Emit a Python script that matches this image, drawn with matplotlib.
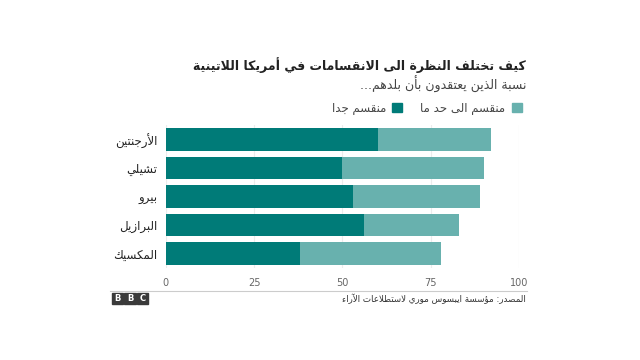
import matplotlib
matplotlib.use('Agg')
import matplotlib.pyplot as plt
from matplotlib.patches import Rectangle

# data
countries = ['الأرجنتين', 'تشيلي', 'بيرو', 'البرازيل', 'المكسيك']
very_divided = [60, 50, 53, 56, 38]
somewhat_divided = [32, 40, 36, 27, 40]
x_ticks = [0, 25, 50, 75, 100]

title = 'كيف تختلف النظرة الى الانقسامات في أمريكا اللاتينية'
subtitle = 'نسبة الذين يعتقدون بأن بلدهم...'
label_somewhat = 'منقسم الى حد ما'
label_very = 'منقسم جدا'
source = 'المصدر: مؤسسة ايبسوس موري لاستطلاعات الآراء'

DARK = '#007b78'
LIGHT = '#68b1ae'

# matplotlib has no Arabic shaping, so map letters to presentation forms
# (Arabic Presentation Forms-B, starting at U+FE80) and reverse for RTL
_letters = [('ء', 1), ('آ', 2), ('أ', 2), ('ؤ', 2), ('إ', 2), ('ئ', 4),
            ('ا', 2), ('ب', 4), ('ة', 2), ('ت', 4), ('ث', 4), ('ج', 4),
            ('ح', 4), ('خ', 4), ('د', 2), ('ذ', 2), ('ر', 2), ('ز', 2),
            ('س', 4), ('ش', 4), ('ص', 4), ('ض', 4), ('ط', 4), ('ظ', 4),
            ('ع', 4), ('غ', 4), ('ف', 4), ('ق', 4), ('ك', 4), ('ل', 4),
            ('م', 4), ('ن', 4), ('ه', 4), ('و', 2), ('ى', 2), ('ي', 4)]
FORMS = {}
_code = 0xFE80
for ch, n in _letters:
    FORMS[ch] = (_code, n)
    _code += n
LAM_ALEF = {'آ': 0xFEF5, 'أ': 0xFEF7, 'إ': 0xFEF9, 'ا': 0xFEFB}


def shape(text):
    out = []
    i = 0
    prev_joins = False
    while i < len(text):
        ch = text[i]
        if ch not in FORMS:
            out.append(ch)
            prev_joins = False
            i += 1
            continue
        nxt = text[i + 1] if i + 1 < len(text) else ''
        if ch == 'ل' and nxt in LAM_ALEF:
            out.append(chr(LAM_ALEF[nxt] + (1 if prev_joins else 0)))
            prev_joins = False
            i += 2
            continue
        base, n = FORMS[ch]
        next_is_letter = nxt in FORMS
        if n == 1:
            out.append(chr(base))
            prev_joins = False
        elif n == 2:
            out.append(chr(base + (1 if prev_joins else 0)))
            prev_joins = False
        else:
            if prev_joins and next_is_letter:
                out.append(chr(base + 3))
            elif prev_joins:
                out.append(chr(base + 1))
            elif next_is_letter:
                out.append(chr(base + 2))
            else:
                out.append(chr(base))
            prev_joins = next_is_letter
        i += 1
    return ''.join(out)[::-1]


plt.rcParams['font.family'] = ['DejaVu Sans']

fig = plt.figure(figsize=(6.4, 3.6), dpi=100)
ax = fig.add_axes([0.259, 0.256, 0.552, 0.396])

y = list(range(len(countries)))
ax.barh(y, very_divided, height=0.8, color=DARK, zorder=2)
ax.barh(y, somewhat_divided, left=very_divided, height=0.8, color=LIGHT, zorder=2)

ax.set_ylim(len(countries) - 0.5, -0.5)
ax.set_xlim(0, 100)
ax.set_xticks(x_ticks)
ax.set_xticklabels([str(t) for t in x_ticks], color='#666666', fontsize=7)
ax.set_yticks(y)
ax.set_yticklabels([shape(c) for c in countries], fontsize=8.5, color='#222222')
ax.tick_params(axis='both', length=0)
ax.tick_params(axis='x', pad=7)
ax.tick_params(axis='y', pad=6)
ax.grid(axis='x', color='#ececec', linewidth=0.8, zorder=0)
for s in ax.spines.values():
    s.set_visible(False)

# title block, right aligned like the original
fig.text(0.822, 0.818, shape(title), ha='right', va='center',
         fontsize=9, fontweight='bold', color='#222222')
fig.text(0.822, 0.766, shape(subtitle), ha='right', va='center',
         fontsize=9, color='#444444')

# legend
fig.add_artist(Rectangle((0.800, 0.689), 0.016, 0.026, color=LIGHT,
                         transform=fig.transFigure))
fig.text(0.790, 0.702, shape(label_somewhat), ha='right', va='center',
         fontsize=8.5, color='#444444')
fig.add_artist(Rectangle((0.612, 0.689), 0.016, 0.026, color=DARK,
                         transform=fig.transFigure))
fig.text(0.603, 0.702, shape(label_very), ha='right', va='center',
         fontsize=8.5, color='#444444')

# footer
fig.add_artist(plt.Line2D([0.172, 0.823], [0.191, 0.191], color='#cccccc',
                          linewidth=0.8, transform=fig.transFigure))
fig.text(0.822, 0.169, shape(source), ha='right', va='center',
         fontsize=6.3, color='#333333')
for k, letter in enumerate('BBC'):
    x0 = 0.175 + k * 0.0195
    fig.add_artist(Rectangle((x0, 0.156), 0.0175, 0.03, color='#3a3a3a',
                             transform=fig.transFigure))
    fig.text(x0 + 0.00875, 0.171, letter, ha='center', va='center',
             fontsize=6, fontweight='bold', color='white')

fig.savefig('out.png', dpi=100)
